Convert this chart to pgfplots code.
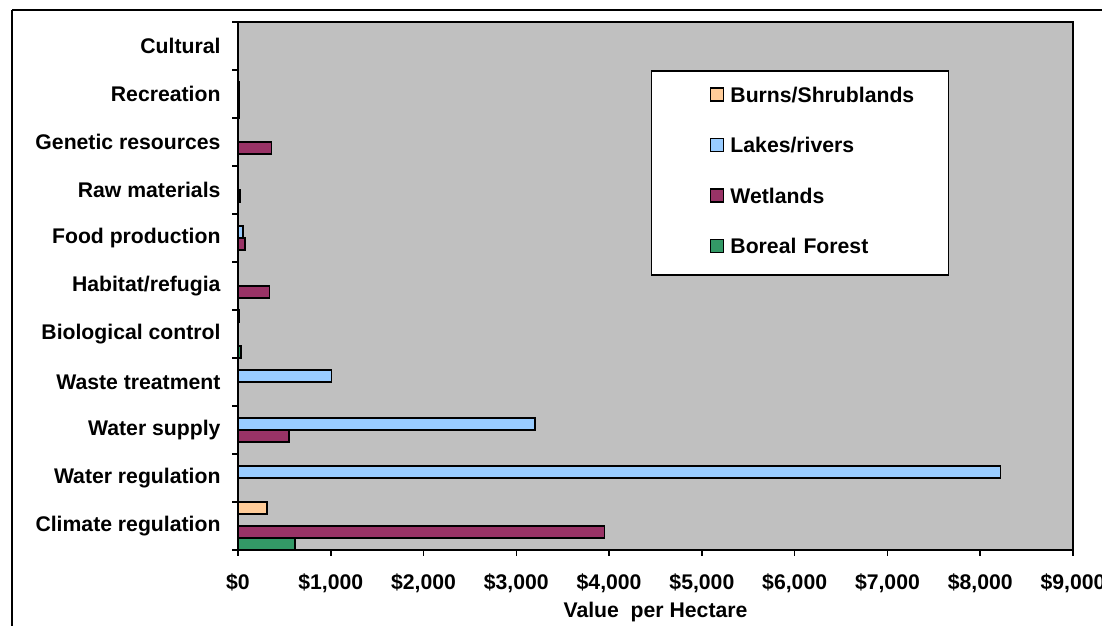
\documentclass[border=0pt]{standalone}
\usepackage{fontspec}
\setmainfont{Liberation Sans}
\usepackage{pgfplots}
\pgfplotsset{compat=1.18}

\definecolor{burns}{HTML}{FFCC99}
\definecolor{lakes}{HTML}{99CCFF}
\definecolor{wetl}{HTML}{993366}
\definecolor{boreal}{HTML}{339966}
\definecolor{plotbg}{HTML}{C0C0C0}

\newcommand{\chartfont}{\fontsize{21.2bp}{24bp}\selectfont\bfseries}

\begin{document}
\begin{tikzpicture}
\useasboundingbox (0,0) rectangle (1102bp,626bp);
% outer chart frame (runs off the page on the right and bottom)
\draw[line width=2bp] (12bp,616bp) -- (1130bp,616bp);
\draw[line width=2bp] (12bp,616bp) -- (12bp,-20bp);

\begin{axis}[
    at={(238bp,76bp)}, anchor=south west,
    scale only axis, width=835bp, height=528bp,
    xbar, bar width=12bp,
    xmin=0, xmax=9000, ymin=-0.5, ymax=10.5,
    axis background/.style={fill=plotbg},
    axis line style={line width=1.5bp},
    xtick={0,1000,...,9000},
    xticklabels={\$0,{\$1,000},{\$2,000},{\$3,000},{\$4,000},{\$5,000},{\$6,000},{\$7,000},{\$8,000},{\$9,000}},
    ytick={0,...,10},
    yticklabels={Climate regulation,Water regulation,Water supply,Waste treatment,Biological control,Habitat/refugia,Food production,Raw materials,Genetic resources,Recreation,Cultural},
    minor ytick={-0.5,0.5,...,10.5},
    major y tick style={draw=none},
    tick align=outside, tick pos=left,
    major tick length=6bp, minor tick length=6bp,
    tick style={line width=1.5bp, black},
    ticklabel style={font=\chartfont},
    xticklabel style={yshift=-14bp},
    yticklabel style={xshift=-8bp},
    xlabel={Value~~per Hectare},
    xlabel style={font=\chartfont, at={(rel axis cs:0.5,0)}, anchor=base, yshift=-67bp},
    legend cell align=left,
    legend style={font=\chartfont, at={(0.4946,0.909)}, anchor=north west,
        draw=black, line width=1.5bp, fill=white,
        inner xsep=0pt, inner ysep=16.6bp, row sep=31bp, column sep=6bp,
        nodes={inner sep=0pt, text width=218bp, text height=15bp, text depth=4.5bp}},
    legend image code/.code={
        \path[draw=none, fill=none] (0bp,0bp) -- (59bp,0bp);
        \draw[#1, line width=1.5bp] (59bp,-4bp) rectangle (72bp,9bp);
    },
]
% Burns/Shrublands
\addplot[fill=burns, draw=black, line width=1.5bp, bar shift=18bp] coordinates {
    (310,0) (15,4)
};
% Lakes/rivers
\addplot[fill=lakes, draw=black, line width=1.5bp, bar shift=6bp] coordinates {
    (8220,1) (3200,2) (1010,3) (55,6) (15,9)
};
% Wetlands
\addplot[fill=wetl, draw=black, line width=1.5bp, bar shift=-6bp] coordinates {
    (3950,0) (550,2) (340,5) (75,6) (20,7) (360,8) (15,9)
};
% Boreal Forest
\addplot[fill=boreal, draw=black, line width=1.5bp, bar shift=-18bp] coordinates {
    (615,0) (35,4) (15,9)
};
\legend{Burns/Shrublands,Lakes/rivers,Wetlands,Boreal Forest}
\end{axis}
\end{tikzpicture}
\end{document}
